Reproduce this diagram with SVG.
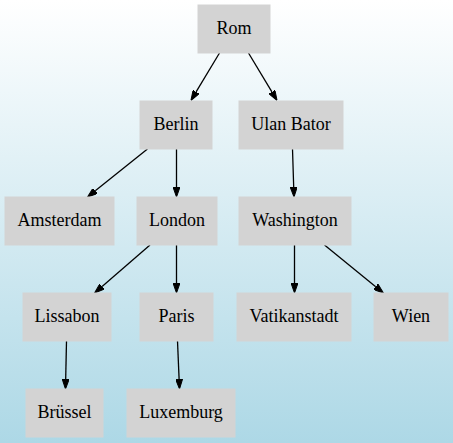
<svg xmlns="http://www.w3.org/2000/svg" width="453" height="443" viewBox="0 0 453 443">
<defs>
<linearGradient id="bg" x1="0" y1="0" x2="0" y2="1">
<stop offset="0" stop-color="#ffffff"/>
<stop offset="1" stop-color="#add8e6"/>
</linearGradient>
<marker id="ah" viewBox="0 0 10 7" refX="0" refY="3.5" markerWidth="10" markerHeight="7" markerUnits="userSpaceOnUse" orient="auto">
<path d="M0,0 L10,3.5 L0,7 Z" fill="#000" stroke="#000" stroke-width="1"/>
</marker>
<style>
.n rect{fill:#d3d3d3;stroke:#d3d3d3}
.n text{font-family:'Times New Roman','Liberation Serif',Times,serif;font-size:18px;text-anchor:middle;fill:#000}
#edges line{stroke:#000;stroke-width:1.3;marker-end:url(#ah)}
</style>
</defs>
<rect x="0" y="0" width="453" height="443" fill="url(#bg)"/>
<g id="edges">
<line x1="219.5" y1="53" x2="196.1" y2="91.9"/>
<line x1="248.5" y1="53" x2="271.9" y2="91.9"/>
<line x1="147.5" y1="149" x2="95.3" y2="190.75"/>
<line x1="176.5" y1="149" x2="176.5" y2="187"/>
<line x1="150" y1="245" x2="102.1" y2="286.5"/>
<line x1="176.5" y1="245" x2="176.5" y2="283"/>
<line x1="292.5" y1="149" x2="293.7" y2="187"/>
<line x1="294.5" y1="245" x2="294.5" y2="283"/>
<line x1="324.5" y1="245" x2="375.7" y2="286.7"/>
<line x1="66.5" y1="341" x2="65.7" y2="379"/>
<line x1="177.5" y1="341" x2="179.1" y2="379"/>
</g>
<g id="rom" class="n"><rect x="198" y="5" width="72" height="48"/><text x="234" y="34">Rom</text></g>
<g id="berlin" class="n"><rect x="140" y="101" width="72" height="48"/><text x="176" y="130">Berlin</text></g>
<g id="ulanbator" class="n"><rect x="239" y="101" width="104" height="48"/><text x="291" y="130">Ulan Bator</text></g>
<g id="amsterdam" class="n"><rect x="5" y="197" width="109" height="48"/><text x="59.5" y="226">Amsterdam</text></g>
<g id="london" class="n"><rect x="137" y="197" width="80" height="48"/><text x="177" y="226">London</text></g>
<g id="washington" class="n"><rect x="239" y="197" width="112" height="48"/><text x="295" y="226">Washington</text></g>
<g id="lissabon" class="n"><rect x="23" y="293" width="88" height="48"/><text x="67" y="322">Lissabon</text></g>
<g id="paris" class="n"><rect x="140" y="293" width="73" height="48"/><text x="176.5" y="322">Paris</text></g>
<g id="vatikanstadt" class="n"><rect x="237" y="293" width="114" height="48"/><text x="294" y="322">Vatikanstadt</text></g>
<g id="wien" class="n"><rect x="374" y="293" width="74" height="48"/><text x="411" y="322">Wien</text></g>
<g id="bruessel" class="n"><rect x="26" y="389" width="77" height="48"/><text x="64.5" y="418">Brüssel</text></g>
<g id="luxemburg" class="n"><rect x="127" y="389" width="108" height="48"/><text x="181" y="418">Luxemburg</text></g>
</svg>
